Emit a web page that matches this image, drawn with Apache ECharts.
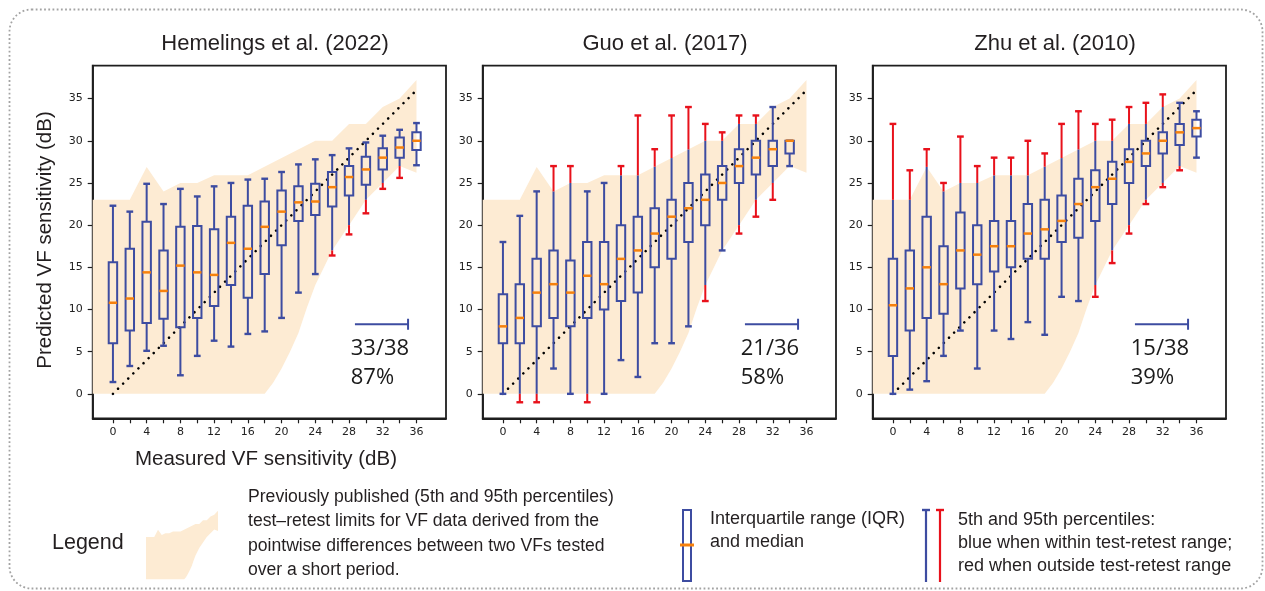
<!DOCTYPE html>
<html>
<head>
<meta charset="utf-8">
<script src="https://cdn.jsdelivr.net/npm/echarts@6/dist/echarts.min.js"></script>
<style>
html,body{margin:0;padding:0;background:#fff;}
#chart{width:1265px;height:591px;}
</style>
</head>
<body>
<div id="chart"></div>
<script>
// ---------------- data ----------------
const panelTitles = ['Hemelings et al. (2022)', 'Guo et al. (2017)', 'Zhu et al. (2010)'];
const fractionText = ['33/38', '21/36', '15/38'];
const percentText = ['87%', '58%', '39%'];

const xTickValues = [0,2,4,6,8,10,12,14,16,18,20,22,24,26,28,30,32,34,36];
const xLabelValues = [0,4,8,12,16,20,24,28,32,36];
const yTickValues = [0,5,10,15,20,25,30,35];

// measured sensitivity bins
const binsA = [0,2,4,6,8,10,12,14,16,18,20,22,24,26,28,30,32,34,36];
const binsB = [0,2,4,6,8,10,12,14,16,18,20,22,24,26,28,30,32,34];
const binsC = [0,2,4,6,8,10,12,14,16,18,20,22,24,26,28,30,32,34,36];

// Hemelings et al. (2022)
const hemP5  = [1.4, 3.3, 5.1, 5.7, 2.2, 4.5, 6.3, 5.6, 7.1, 7.4, 9.0, 12.0, 14.2, 16.4, 18.9, 21.4, 24.3, 25.6, 27.1];
const hemQ1  = [6.0, 7.5, 8.4, 8.9, 7.9, 9.0, 10.4, 12.9, 11.4, 14.2, 17.6, 20.5, 21.2, 22.2, 23.5, 24.8, 26.6, 28.0, 28.9];
const hemMed = [10.8, 11.3, 14.4, 12.2, 15.2, 14.4, 14.1, 17.9, 17.2, 19.8, 21.6, 22.7, 22.8, 24.5, 25.7, 26.6, 28.0, 29.2, 30.0];
const hemQ3  = [15.6, 17.2, 20.4, 17.0, 19.8, 19.9, 19.5, 21.0, 22.3, 22.8, 24.1, 24.6, 24.9, 26.3, 27.0, 28.1, 29.1, 30.4, 31.0];
const hemP95 = [22.3, 21.6, 24.9, 22.5, 24.3, 23.4, 24.6, 25.0, 25.4, 25.5, 26.3, 27.2, 27.8, 28.3, 29.1, 29.8, 30.6, 31.3, 32.1];

// Guo et al. (2017)
const guoP5  = [0, -1, -1, 3, 0, -1, 0, 4, 2, 6, 6, 8, 11, 17, 19, 21, 23, 27];
const guoQ1  = [6, 6, 8, 9, 8, 9, 10, 11, 12, 15, 16, 18, 20, 23, 25, 26, 27, 28.5];
const guoMed = [8, 9, 12, 13, 12, 14, 13, 16, 17, 19, 21, 22, 23, 25, 27, 28, 29, 30];
const guoQ3  = [11.8, 13, 16, 17, 15.8, 18, 18, 20, 21, 22, 23, 25, 26, 27, 29, 30, 30, 30];
const guoP95 = [18, 21.1, 24, 27, 27, 24, 25, 27, 33, 29, 33, 34, 32, 31, 33, 33, 34, 30];

// Zhu et al. (2010)
const zhuP5  = [0, 0.5, 1.5, 4.5, 7.5, 3, 7.5, 6.5, 8.5, 7, 11.5, 11, 11.5, 15.5, 19, 22.5, 24.5, 26.5, 28];
const zhuQ1  = [4.5, 7.5, 9, 9.5, 12.5, 13, 14.5, 15, 16, 16, 18, 18.5, 20.5, 22.5, 25, 27, 28.5, 29.5, 30.5];
const zhuMed = [10.5, 12.5, 15, 13, 17, 16.5, 17.5, 17.5, 19, 19.5, 20.5, 22.5, 24.5, 25.5, 27.5, 28.5, 30, 31, 31.5];
const zhuQ3  = [16, 17, 21, 17.5, 21.5, 20, 20.5, 20.5, 22.5, 23, 23.5, 25.5, 26.5, 27.5, 29, 30, 31, 32, 32.5];
const zhuP95 = [32, 26.5, 29, 25, 30.5, 27, 28, 28, 30, 28.5, 32, 33.5, 32, 32.5, 34, 34.5, 35.5, 34.5, 33.5];

// previously published test-retest limits (5th / 95th percentiles)
const bandUpperX = [-2.4, 2, 4, 6, 8, 10, 12, 16, 24, 26, 28, 30, 32, 34, 36];
const bandUpperY = [23.0, 23.0, 26.9, 24.0, 25.0, 25.0, 25.9, 25.9, 30.0, 30.0, 32.0, 32.0, 34.0, 35.0, 37.2];
const bandLowerX = [-2.4, 18, 19, 20, 21, 22, 23, 24, 26, 28, 30, 32, 34, 36];
const bandLowerY = [0, 0, 1.3, 3.0, 5.0, 7.2, 10.2, 12.9, 17.0, 20.0, 23.0, 25.0, 27.0, 26.2];

// identity line
const identityX = [0, 36];
const identityY = [0, 36];

// scale bar shown in each panel
const scaleBarX = [28.7, 35.0];
const scaleBarY = [8.25, 8.25];

// ---------------- style ----------------
const BLUE = '#3d4ca1';
const RED = '#e8111b';
const ORANGE = '#f7810c';
const BAND = '#fdebd3';
const INK = '#231f20';
const AXIS = '#1e1e1e';

const panels = [
  {bins: binsA, p5: hemP5, q1: hemQ1, med: hemMed, q3: hemQ3, p95: hemP95},
  {bins: binsB, p5: guoP5, q1: guoQ1, med: guoMed, q3: guoQ3, p95: guoP95},
  {bins: binsC, p5: zhuP5, q1: zhuQ1, med: zhuMed, q3: zhuQ3, p95: zhuP95}
];

function interp(xs, ys, x) {
  if (x <= xs[0]) return ys[0];
  for (let i = 1; i < xs.length; i++) {
    if (x <= xs[i]) {
      const t = (x - xs[i-1]) / (xs[i] - xs[i-1]);
      return ys[i-1] + t * (ys[i] - ys[i-1]);
    }
  }
  return ys[ys.length - 1];
}

const GRID_LEFT0 = 92.7, GRID_STEP = 390, GRID_TOP = 65.7, GRID_W = 353.3, GRID_H = 352.6;

const grids = [0,1,2].map(i => ({
  left: GRID_LEFT0 + GRID_STEP * i, top: GRID_TOP, width: GRID_W, height: GRID_H,
  show: true, borderColor: AXIS, borderWidth: 1.8, backgroundColor: 'transparent'
}));
grids.push({left: 146, top: 510.7, width: 72, height: 68.6, show: false});

const xAxes = [0,1,2].map(i => ({
  type: 'value', gridIndex: i, min: -2.4, max: 39.5,
  axisLine: {show: true, onZero: false, lineStyle: {color: AXIS, width: 1.8}},
  axisTick: {show: true, customValues: xTickValues, length: 5, lineStyle: {color: AXIS, width: 1.2}},
  axisLabel: {show: true, customValues: xLabelValues, fontFamily: 'DejaVu Sans', fontSize: 11, color: '#222', margin: 8},
  splitLine: {show: false}
}));
xAxes.push({type: 'value', gridIndex: 3, min: -2.4, max: 36, show: false});

const yAxes = [0,1,2].map(i => ({
  type: 'value', gridIndex: i, min: -2.9, max: 38.9,
  axisLine: {show: true, onZero: false, lineStyle: {color: AXIS, width: 1.8}},
  axisTick: {show: true, customValues: yTickValues, length: 5, lineStyle: {color: AXIS, width: 1.2}},
  axisLabel: {show: true, customValues: yTickValues, fontFamily: 'DejaVu Sans', fontSize: 11, color: '#222', margin: 10},
  splitLine: {show: false}
}));
yAxes.push({type: 'value', gridIndex: 3, min: 0, max: 37.2, show: false});

function bandRender(params, api) {
  const pts = [];
  for (let i = 0; i < bandUpperX.length; i++) pts.push(api.coord([bandUpperX[i], bandUpperY[i]]));
  for (let i = bandLowerX.length - 1; i >= 0; i--) pts.push(api.coord([bandLowerX[i], bandLowerY[i]]));
  return {type: 'polygon', shape: {points: pts}, style: {fill: BAND, stroke: null}};
}

function boxRender(params, api) {
  const x = api.value(0), lo = api.value(1), q1 = api.value(2), md = api.value(3), q3 = api.value(4), hi = api.value(5);
  const up = interp(bandUpperX, bandUpperY, x);
  const dn = interp(bandLowerX, bandLowerY, x);
  const px = api.coord([x, 0])[0];
  const Y = v => api.coord([x, v])[1];
  const hw = api.size([0.5, 0])[0];
  const cw = api.size([0.4, 0])[0];
  const kids = [];
  const seg = (a, b, c) => kids.push({type: 'line', shape: {x1: px, y1: Y(a), x2: px, y2: Y(b)}, style: {stroke: c, lineWidth: 2}});
  const cap = (v, c) => kids.push({type: 'line', shape: {x1: px - cw, y1: Y(v), x2: px + cw, y2: Y(v)}, style: {stroke: c, lineWidth: 2.4}});
  // upper whisker
  if (hi > up + 0.05) {
    if (up > q3) seg(q3, up, BLUE);
    seg(Math.max(up, q3), hi, RED); cap(hi, RED);
  } else { seg(q3, hi, BLUE); cap(hi, BLUE); }
  // lower whisker
  if (lo < dn - 0.05) {
    if (dn < q1) seg(q1, dn, BLUE);
    seg(Math.min(dn, q1), lo, RED); cap(lo, RED);
  } else { seg(q1, lo, BLUE); cap(lo, BLUE); }
  // box
  kids.push({type: 'rect', shape: {x: px - hw, y: Y(q3), width: 2 * hw, height: Y(q1) - Y(q3)}, style: {fill: 'none', stroke: BLUE, lineWidth: 2}});
  kids.push({type: 'line', shape: {x1: px - hw, y1: Y(md), x2: px + hw, y2: Y(md)}, style: {stroke: ORANGE, lineWidth: 2.5}});
  return {type: 'group', children: kids};
}

function annotRender(panelIdx) {
  return function(params, api) {
    const a = api.coord([scaleBarX[0], scaleBarY[0]]);
    const b = api.coord([scaleBarX[1], scaleBarY[1]]);
    const t1 = api.coord([28.2, 5.4]);
    const t2 = api.coord([28.2, 1.85]);
    return {type: 'group', children: [
      {type: 'line', shape: {x1: a[0], y1: a[1], x2: b[0], y2: b[1]}, style: {stroke: BLUE, lineWidth: 2}},
      {type: 'line', shape: {x1: b[0], y1: b[1] - 5.5, x2: b[0], y2: b[1] + 5.5}, style: {stroke: BLUE, lineWidth: 2}},
      {type: 'text', x: t1[0], y: t1[1], style: {text: fractionText[panelIdx], fontFamily: 'Open Sans', fontSize: 22, fill: '#1a1a1a', align: 'left', verticalAlign: 'middle'}},
      {type: 'text', x: t2[0], y: t2[1], style: {text: percentText[panelIdx], fontFamily: 'Open Sans', fontSize: 22, fill: '#1a1a1a', align: 'left', verticalAlign: 'middle'}}
    ]};
  };
}

const series = [];
panels.forEach((p, i) => {
  series.push({type: 'custom', xAxisIndex: i, yAxisIndex: i, silent: true, z: 1, data: [[0, 0]], renderItem: bandRender});
  series.push({type: 'line', xAxisIndex: i, yAxisIndex: i, silent: true, z: 2, symbol: 'none',
    data: identityX.map((v, k) => [v, identityY[k]]),
    lineStyle: {color: '#000', width: 2.6, type: [0.01, 7.2], cap: 'round'}});
  series.push({type: 'custom', xAxisIndex: i, yAxisIndex: i, silent: true, z: 3,
    encode: {x: 0, y: [1, 2, 3, 4, 5]},
    data: p.bins.map((b, k) => [b, p.p5[k], p.q1[k], p.med[k], p.q3[k], p.p95[k]]),
    renderItem: boxRender});
  series.push({type: 'custom', xAxisIndex: i, yAxisIndex: i, silent: true, z: 4, data: [[30, 5]], renderItem: annotRender(i)});
});
// legend miniature of the test-retest band
series.push({type: 'custom', xAxisIndex: 3, yAxisIndex: 3, silent: true, data: [[0, 0]], renderItem: bandRender});

const TXT = {fontFamily: 'Liberation Sans', fill: INK};
const graphic = [
  {type: 'rect', shape: {x: 9.5, y: 9.5, width: 1253, height: 579, r: 22}, style: {fill: 'none', stroke: '#a3a3a3', lineWidth: 1.8, lineDash: [1.8, 2.4]}, silent: true},
  // panel titles
  ...panelTitles.map((t, i) => ({type: 'text', x: 275 + GRID_STEP * i, y: 43.5, style: Object.assign({text: t, fontSize: 22, align: 'center', verticalAlign: 'middle'}, TXT)})),
  // axis titles
  {type: 'text', x: 45, y: 240, rotation: Math.PI / 2, style: Object.assign({text: 'Predicted VF sensitivity (dB)', fontSize: 20.5, align: 'center', verticalAlign: 'middle'}, TXT)},
  {type: 'text', x: 266, y: 459, style: Object.assign({text: 'Measured VF sensitivity (dB)', fontSize: 20.5, align: 'center', verticalAlign: 'middle'}, TXT)},
  // legend
  {type: 'text', x: 52, y: 543, style: Object.assign({text: 'Legend', fontSize: 21.5, align: 'left', verticalAlign: 'middle'}, TXT)},
  ...['Previously published (5th and 95th percentiles)', 'test\u2013retest limits for VF data derived from the', 'pointwise differences between two VFs tested', 'over a short period.']
    .map((t, k) => ({type: 'text', x: 248, y: 497 + 24.5 * k, style: Object.assign({text: t, fontSize: 17.6, align: 'left', verticalAlign: 'middle'}, TXT)})),
  {type: 'rect', shape: {x: 683, y: 510, width: 8, height: 71}, style: {fill: 'none', stroke: BLUE, lineWidth: 2}},
  {type: 'line', shape: {x1: 680, y1: 545, x2: 694, y2: 545}, style: {stroke: ORANGE, lineWidth: 3}},
  ...['Interquartile range (IQR)', 'and median'].map((t, k) => ({type: 'text', x: 710, y: 519.5 + 23 * k, style: Object.assign({text: t, fontSize: 18, align: 'left', verticalAlign: 'middle'}, TXT)})),
  {type: 'line', shape: {x1: 926, y1: 510, x2: 926, y2: 582}, style: {stroke: BLUE, lineWidth: 2.2}},
  {type: 'line', shape: {x1: 922, y1: 510, x2: 930, y2: 510}, style: {stroke: BLUE, lineWidth: 2.4}},
  {type: 'line', shape: {x1: 940, y1: 510, x2: 940, y2: 582}, style: {stroke: RED, lineWidth: 2.2}},
  {type: 'line', shape: {x1: 936, y1: 510, x2: 944, y2: 510}, style: {stroke: RED, lineWidth: 2.4}},
  ...['5th and 95th percentiles:', 'blue when within test-retest range;', 'red when outside test-retest range'].map((t, k) => ({type: 'text', x: 958, y: 520 + 23 * k, style: Object.assign({text: t, fontSize: 18, align: 'left', verticalAlign: 'middle'}, TXT)}))
];

const chart = echarts.init(document.getElementById('chart'), null, {renderer: 'canvas'});
chart.setOption({
  animation: false,
  backgroundColor: '#fff',
  grid: grids,
  xAxis: xAxes,
  yAxis: yAxes,
  series: series,
  graphic: graphic
});
</script>
</body>
</html>
